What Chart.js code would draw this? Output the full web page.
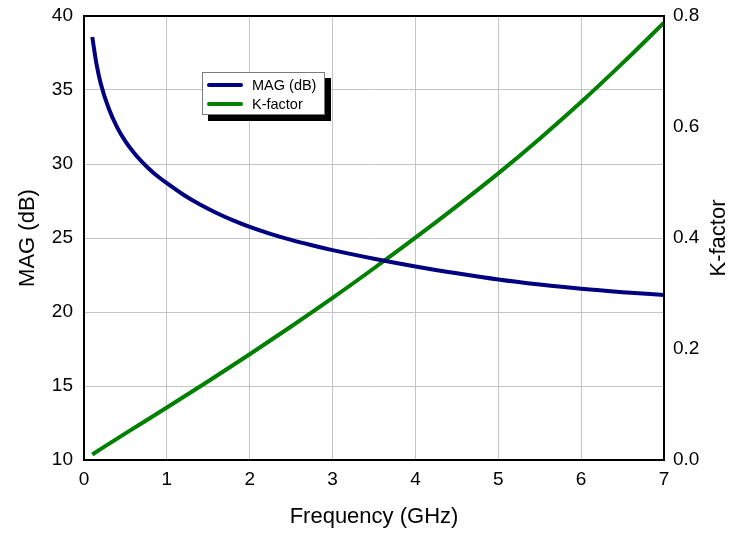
<!DOCTYPE html>
<html>
<head>
<meta charset="utf-8">
<script src="https://cdn.jsdelivr.net/npm/chart.js@4/dist/chart.umd.min.js"></script>
<style>
  html, body { margin: 0; padding: 0; background: #ffffff; }
  #wrap { position: relative; width: 731px; height: 533px; }
  #legend {
    position: absolute; left: 202px; top: 72px; width: 121px; height: 41px;
    background: #ffffff; border: 1px solid #7a7a7a; box-shadow: 6px 6px 0 #000000;
    font-family: "Liberation Sans", Arial, sans-serif; font-size: 14.5px; color: #000;
  }
  .row { position: absolute; left: 0; height: 18px; display: flex; align-items: center; }
  .sw { display: inline-block; width: 36px; height: 4px; border-radius: 2px; margin-left: 4px; margin-right: 9px; }
</style>
</head>
<body>
<div id="wrap">
  <canvas id="c" width="731" height="533"></canvas>
  <div id="legend"></div>
</div>
<script>
// ---- data ----
const freqMag = [0.1, 0.15, 0.2, 0.3, 0.4, 0.5, 0.6, 0.7, 0.8, 0.9, 1.0, 1.2, 1.4, 1.6, 1.8, 2.0, 2.25, 2.5, 2.75, 3.0, 3.5, 4.0, 4.5, 5.0, 5.5, 6.0, 6.5, 7.0];
const magDb   = [38.58, 36.78, 35.48, 33.73, 32.48, 31.53, 30.78, 30.15, 29.6, 29.12, 28.7, 27.92, 27.26, 26.69, 26.19, 25.75, 25.28, 24.87, 24.51, 24.18, 23.6, 23.08, 22.62, 22.2, 21.86, 21.57, 21.34, 21.15];
const freqK   = [0.1, 0.5, 1.0, 1.5, 2.0, 2.5, 3.0, 3.5, 4.0, 4.5, 5.0, 5.5, 6.0, 6.5, 7.0];
const kFactor = [0.010, 0.048, 0.0945, 0.142, 0.1905, 0.2405, 0.292, 0.3455, 0.4005, 0.4575, 0.5165, 0.579, 0.645, 0.715, 0.788];
const xTicks  = [0, 1, 2, 3, 4, 5, 6, 7];
const magTicks = [10, 15, 20, 25, 30, 35, 40];
const kTicks  = [0.0, 0.2, 0.4, 0.6, 0.8];
const seriesNames = ["MAG (dB)", "K-factor"];
const seriesColors = ["#000080", "#008000"];
const axisTitles = { x: "Frequency (GHz)", yL: "MAG (dB)", yR: "K-factor" };

const FONT = '"Liberation Sans", Arial, sans-serif';

const toPts = (xs, ys) => xs.map((x, i) => ({ x: x, y: ys[i] }));

const frameAndTitles = {
  id: 'frameAndTitles',
  afterDatasetsDraw(chart) {
    const { ctx, chartArea: a } = chart;
    ctx.save();
    ctx.strokeStyle = '#000';
    ctx.lineWidth = 2;
    ctx.strokeRect(a.left, a.top, a.right - a.left, a.bottom - a.top);
    ctx.fillStyle = '#000';
    ctx.font = '22px ' + FONT;
    ctx.textAlign = 'center';
    ctx.textBaseline = 'middle';
    const midY = (a.top + a.bottom) / 2;
    ctx.fillText(axisTitles.x, (a.left + a.right) / 2, 517);
    ctx.save();
    ctx.translate(28, midY);
    ctx.rotate(-Math.PI / 2);
    ctx.fillText(axisTitles.yL, 0, 0);
    ctx.restore();
    ctx.save();
    ctx.translate(719, midY);
    ctx.rotate(-Math.PI / 2);
    ctx.fillText(axisTitles.yR, 0, 0);
    ctx.restore();
    ctx.restore();
  }
};

const fitY = w => s => { s.width = w; s.paddingTop = 0; s.paddingBottom = 0; };

const chart = new Chart(document.getElementById('c'), {
  type: 'scatter',
  data: {
    datasets: [
      { label: seriesNames[0], data: toPts(freqMag, magDb), yAxisID: 'yL',
        showLine: true, borderColor: seriesColors[0], backgroundColor: seriesColors[0],
        borderWidth: 4, pointRadius: 0, cubicInterpolationMode: 'monotone' },
      { label: seriesNames[1], data: toPts(freqK, kFactor), yAxisID: 'yR',
        showLine: true, borderColor: seriesColors[1], backgroundColor: seriesColors[1],
        borderWidth: 4, pointRadius: 0, cubicInterpolationMode: 'monotone' }
    ]
  },
  options: {
    responsive: false,
    animation: false,
    devicePixelRatio: 1,
    layout: { padding: { top: 16, left: 0, right: 0, bottom: 0 } },
    plugins: { legend: { display: false }, tooltip: { enabled: false } },
    scales: {
      x: {
        type: 'linear', min: 0, max: 7,
        afterBuildTicks: s => { s.ticks = xTicks.map(v => ({ value: v })); },
        afterFit: s => { s.height = 73; s.paddingLeft = 0; s.paddingRight = 0; },
        grid: { color: '#c4c4c4', lineWidth: 1, drawTicks: false },
        border: { display: true, color: '#000', width: 2 },
        ticks: { color: '#000', font: { family: FONT, size: 19 }, padding: 8, maxRotation: 0 }
      },
      yL: {
        type: 'linear', position: 'left', min: 10, max: 40,
        afterBuildTicks: s => { s.ticks = magTicks.map(v => ({ value: v })); },
        afterFit: fitY(84),
        grid: { color: '#c4c4c4', lineWidth: 1, drawTicks: false },
        border: { display: true, color: '#000', width: 2 },
        ticks: { color: '#000', font: { family: FONT, size: 19 }, padding: 11 }
      },
      yR: {
        type: 'linear', position: 'right', min: 0, max: 0.8,
        afterBuildTicks: s => { s.ticks = kTicks.map(v => ({ value: v })); },
        afterFit: fitY(67),
        grid: { display: false, drawTicks: false },
        border: { display: true, color: '#000', width: 2 },
        ticks: { color: '#000', font: { family: FONT, size: 19 }, padding: 9,
                 callback: v => Number(v).toFixed(1) }
      }
    }
  },
  plugins: [frameAndTitles]
});

// HTML legend built from the datasets
const lg = document.getElementById('legend');
chart.data.datasets.forEach((ds, i) => {
  const row = document.createElement('div');
  row.className = 'row';
  row.style.top = (3 + i * 19) + 'px';
  const sw = document.createElement('span');
  sw.className = 'sw';
  sw.style.background = ds.borderColor;
  const tx = document.createElement('span');
  tx.textContent = ds.label;
  row.appendChild(sw);
  row.appendChild(tx);
  lg.appendChild(row);
});
</script>
</body>
</html>
